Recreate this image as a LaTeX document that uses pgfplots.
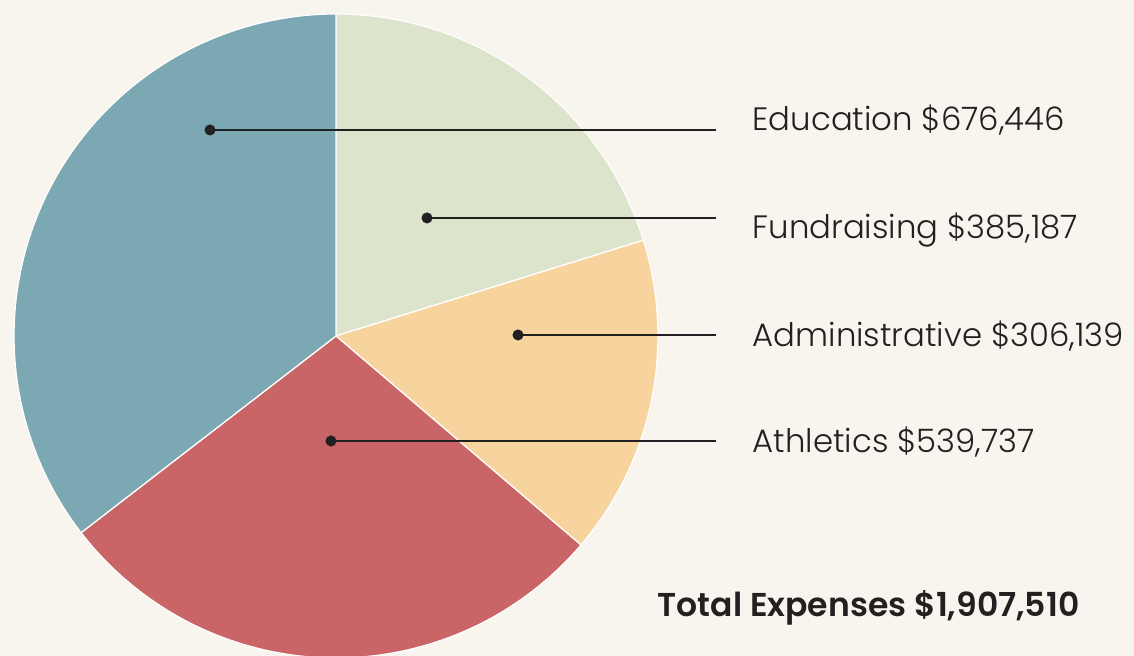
\documentclass[border=0pt]{standalone}
\usepackage{pgfplots}
\pgfplotsset{compat=1.18}
\usepackage{fontspec}
\setmainfont{Poppins}[UprightFont=* Light, BoldFont=* SemiBold]
\definecolor{bg}{HTML}{F8F4EE}
\definecolor{cEdu}{HTML}{7BA8B2}
\definecolor{cFund}{HTML}{DCE5CB}
\definecolor{cAdm}{HTML}{F7D49E}
\definecolor{cAth}{HTML}{C96566}
\definecolor{ink}{HTML}{222020}
% values in thousands of dollars
\def\vFund{385.187}
\def\vAdm{306.139}
\def\vAth{539.737}
\def\vEdu{676.446}
\pgfmathsetmacro\tot{\vFund+\vAdm+\vAth+\vEdu}
\pgfmathsetmacro\aA{90}
\pgfmathsetmacro\aB{\aA-360*(\vFund/\tot)}
\pgfmathsetmacro\aC{\aB-360*(\vAdm/\tot)}
\pgfmathsetmacro\aD{\aC-360*(\vAth/\tot)}
\pgfmathsetmacro\aE{\aD-360*(\vEdu/\tot)}
\begin{document}
\begin{tikzpicture}
\begin{axis}[
  scale only axis, width=11.34cm, height=6.56cm,
  xmin=0, xmax=1134, ymin=0, ymax=656,
  hide axis, clip=true,
]
\addplot[fill=bg, draw=none] coordinates {(0,0) (1134,0) (1134,656) (0,656)} -- cycle;
\addplot[fill=cFund, draw=white, line width=0.35pt, domain=\aB:\aA, samples=80, variable=\t]
  ({336+322*cos(\t)},{320+322*sin(\t)}) -- (axis cs:336,320) -- cycle;
\addplot[fill=cAdm, draw=white, line width=0.35pt, domain=\aC:\aB, samples=80, variable=\t]
  ({336+322*cos(\t)},{320+322*sin(\t)}) -- (axis cs:336,320) -- cycle;
\addplot[fill=cAth, draw=white, line width=0.35pt, domain=\aD:\aC, samples=80, variable=\t]
  ({336+322*cos(\t)},{320+322*sin(\t)}) -- (axis cs:336,320) -- cycle;
\addplot[fill=cEdu, draw=white, line width=0.35pt, domain=\aE:\aD, samples=80, variable=\t]
  ({336+322*cos(\t)},{320+322*sin(\t)}) -- (axis cs:336,320) -- cycle;
% leader lines
\addplot[ink, line width=0.7pt, mark=*, mark indices={1}, mark size=1.2pt] coordinates {(210,526) (716,526)};
\addplot[ink, line width=0.7pt, mark=*, mark indices={1}, mark size=1.2pt] coordinates {(427,438) (716,438)};
\addplot[ink, line width=0.7pt, mark=*, mark indices={1}, mark size=1.2pt] coordinates {(518,321) (716,321)};
\addplot[ink, line width=0.7pt, mark=*, mark indices={1}, mark size=1.2pt] coordinates {(331,215) (716,215)};
\node[anchor=west, inner sep=0pt, text=ink, font=\fontsize{9.2}{11}\selectfont] at (axis cs:752,536) {Education \$676,446};
\node[anchor=west, inner sep=0pt, text=ink, font=\fontsize{9.2}{11}\selectfont] at (axis cs:752,426) {Fundraising \$385,187};
\node[anchor=west, inner sep=0pt, text=ink, font=\fontsize{9.2}{11}\selectfont] at (axis cs:752,320) {Administrative \$306,139};
\node[anchor=west, inner sep=0pt, text=ink, font=\fontsize{9.2}{11}\selectfont] at (axis cs:752,214) {Athletics \$539,737};
\node[anchor=west, inner sep=0pt, text=ink, font=\fontsize{9.4}{11}\selectfont\bfseries] at (axis cs:657,48) {Total Expenses \$1,907,510};
\end{axis}
\end{tikzpicture}
\end{document}
